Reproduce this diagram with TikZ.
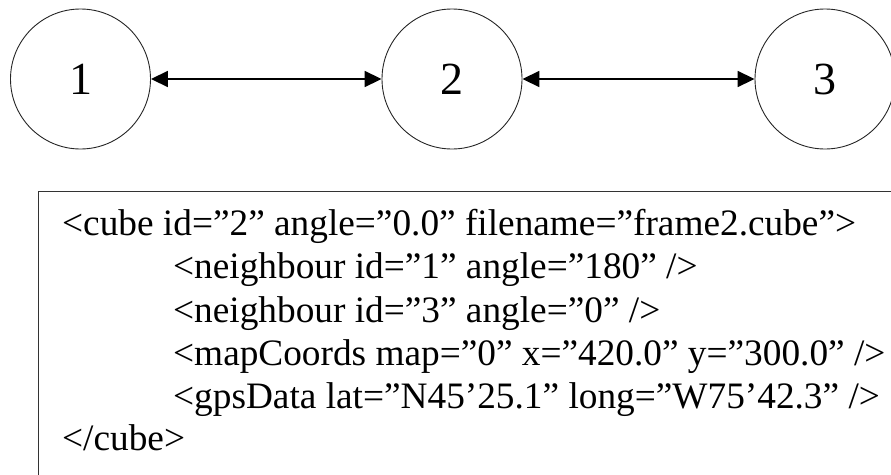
\documentclass[tikz,border=0pt]{standalone}
\usepackage{fontspec}
\setmainfont{Liberation Serif}
\usetikzlibrary{arrows.meta}
\begin{document}
\begin{tikzpicture}[x=1pt,y=-1pt,
  cubenode/.style={draw=black!85, circle, minimum size=140pt, inner sep=0pt, line width=0.9pt, font=\fontsize{46}{50}\selectfont},
  link/.style={line width=1.8pt, {Triangle[length=17pt,width=16pt]}-{Triangle[length=17pt,width=16pt]}},
  xmlline/.style={anchor=base west, inner sep=0pt, font=\fontsize{37.3}{43}\selectfont}]
\useasboundingbox (0,0) rectangle (891,474);
\node[cubenode] (n1) at (80.5,79) {1};
\node[cubenode] (n2) at (452,79) {2};
\node[cubenode] (n3) at (825,79) {3};
\draw[link] (n1) -- (n2);
\draw[link] (n2) -- (n3);
\draw[line width=1pt, draw=black!80] (38,191) rectangle (895,478);
\node[xmlline] (l1) at (62,235) {<cube id=”2” angle=”0.0” filename=”frame2.cube”>};
\node[xmlline] (l2) at (173,278) {<neighbour id=”1” angle=”180” />};
\node[xmlline] (l3) at (173,322) {<neighbour id=”3” angle=”0” />};
\node[xmlline] (l4) at (173,365) {<mapCoords map=”0” x=”420.0” y=”300.0” />};
\node[xmlline] (l5) at (173,408) {<gpsData lat=”N45’25.1” long=”W75’42.3” />};
\node[xmlline] (l6) at (62,450) {</cube>};
\end{tikzpicture}
\end{document}
